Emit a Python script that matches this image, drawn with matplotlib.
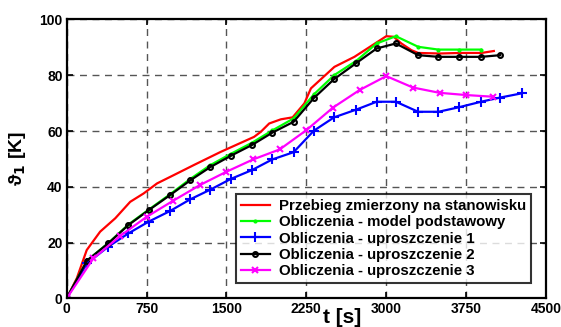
import matplotlib
matplotlib.use("Agg")
import matplotlib.pyplot as plt

plt.rcParams['font.family'] = ['Liberation Sans', 'DejaVu Sans']
plt.rcParams['font.weight'] = 'bold'

# measured on the test stand
t_meas = [0, 95, 188, 314, 456, 596, 722, 848, 1006, 1194, 1445, 1759, 1822, 1901, 2011,
          2121, 2231, 2293, 2513, 2701, 3000, 3070, 3142, 3236, 3300, 3500, 3700, 3895, 4010]
y_meas = [0, 7.2, 17.3, 23.9, 28.7, 34.6, 37.6, 41.2, 44.2, 47.8, 52.5, 57.9, 59.7, 62.7, 64.2,
          64.9, 69.9, 75.3, 83, 86.6, 94, 93.8, 91.4, 89, 88, 87.8, 88, 88, 88.7]

# model podstawowy
t_base = [0, 190, 390, 580, 770, 970, 1160, 1350, 1540, 1740, 1930, 2130, 2320, 2510, 2720,
          2910, 3090, 3300, 3490, 3680, 3890]
y_base = [0, 13.5, 19.8, 26.5, 31.8, 37.3, 42.8, 47.8, 51.8, 55.8, 60.2, 64.5, 73.1, 80, 85.2,
          91.4, 94, 90.2, 89.2, 89.2, 89.2]

# uproszczenie 1
t_u1 = [0, 190, 390, 580, 770, 970, 1160, 1350, 1540, 1740, 1930, 2130, 2320, 2510, 2720,
        2910, 3090, 3300, 3490, 3680, 3890, 4070, 4270]
y_u1 = [0, 12.5, 18.5, 23.3, 27.5, 31.3, 35.5, 39, 42.8, 46, 49.8, 52.4, 60.1, 64.9, 67.7,
        70.5, 70.5, 66.9, 66.9, 68.5, 70.5, 72, 73.5]

# uproszczenie 2
t_u2 = [0, 190, 390, 580, 770, 970, 1160, 1350, 1540, 1740, 1930, 2130, 2320, 2510, 2720,
        2910, 3090, 3300, 3490, 3680, 3890, 4070]
y_u2 = [0, 13.5, 19.7, 26.3, 31.6, 37, 42.3, 47.1, 51.1, 55, 59.4, 63.3, 71.8, 78.6, 84.4,
        89.6, 91.4, 87.2, 86.6, 86.6, 86.6, 87.2]

# uproszczenie 3
t_u3 = [0, 250, 500, 750, 1000, 1250, 1500, 1750, 2000, 2250, 2500, 2750, 3000, 3250, 3500,
        3750, 4000]
y_u3 = [0, 14.3, 22.3, 29.2, 35, 40.6, 45.4, 49.8, 53.4, 60.3, 68.4, 74.7, 79.7, 75.6, 73.7,
        72.9, 72.3]

labels = ["Przebieg zmierzony na stanowisku",
          "Obliczenia - model podstawowy",
          "Obliczenia - uproszczenie 1",
          "Obliczenia - uproszczenie 2",
          "Obliczenia - uproszczenie 3"]

fig = plt.figure(figsize=(5.61, 3.27), dpi=100)
ax = fig.add_axes([0.1189, 0.0878, 0.8544, 0.8526])

lw = 1.6
ax.plot(t_meas, y_meas, color="#ff0000", lw=lw, label=labels[0])
ax.plot(t_base, y_base, color="#00ff00", lw=lw, marker=".", markersize=4, label=labels[1])
ax.plot(t_u1, y_u1, color="#0000ff", lw=lw, marker="+", markersize=7, mew=1.5, label=labels[2])
ax.plot(t_u2, y_u2, color="black", lw=lw, marker="o", markersize=3.5, mfc="none", mew=1.5,
        label=labels[3])
ax.plot(t_u3, y_u3, color="#ff00ff", lw=lw, marker="x", markersize=5, mew=1.5, label=labels[4])

ax.set_xlim(0, 4500)
ax.set_ylim(0, 100)
ax.set_xticks([0, 750, 1500, 2250, 3000, 3750, 4500])
ax.set_xticklabels(["0", "750", "1500", "2250", "3000", "3750", "4500"])
ax.set_yticks([0, 20, 40, 60, 80, 100])
ax.tick_params(direction="in", top=True, right=True, length=4, width=1.2,
               labelsize=10, pad=3)
for lab in ax.get_xticklabels() + ax.get_yticklabels():
    lab.set_fontweight("bold")
ax.grid(True, color="#555555", linestyle=(0, (5, 4)), linewidth=1)
for s in ax.spines.values():
    s.set_linewidth(1.6)

ax.set_ylabel("ϑ$_\\mathbf{1}$ [K]", fontsize=14, fontweight="bold", labelpad=8)
fig.text(0.61, 0.0, "t [s]", fontsize=15, fontweight="bold", ha="center", va="bottom")

leg = ax.legend(loc="lower right", fontsize=10.8, frameon=True, fancybox=False,
                borderaxespad=1.0, handlelength=1.9, labelspacing=0.15,
                borderpad=0.35, handletextpad=0.6)
leg.get_frame().set_edgecolor("black")
leg.get_frame().set_linewidth(1.5)
for txt in leg.get_texts():
    txt.set_fontweight("bold")

fig.savefig("out.png", dpi=100)
